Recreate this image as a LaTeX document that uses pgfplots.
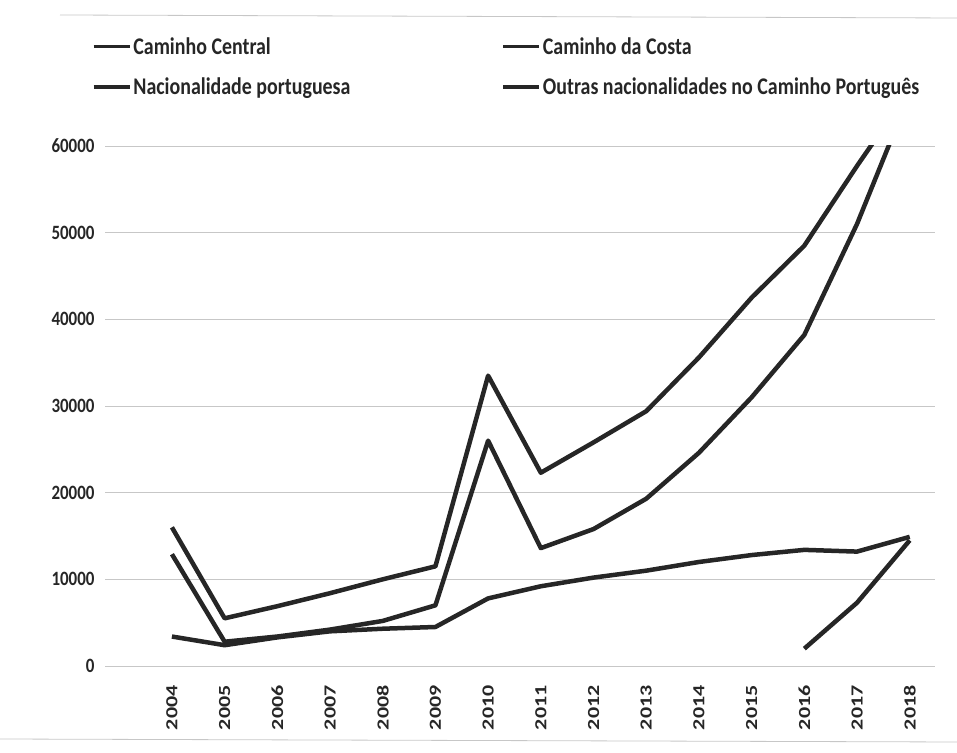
\documentclass[border=0pt]{standalone}
\usepackage{graphicx}
\usepackage{fontspec}
\setmainfont{Carlito}
\usepackage{pgfplots}
\pgfplotsset{compat=1.18}
\newcommand{\vs}[1]{\scalebox{1}[1.2]{#1}}
\newcommand{\hs}[1]{\scalebox{1.3}[1]{#1}}
\definecolor{ink}{HTML}{262626}
\begin{document}
\begin{tikzpicture}[x=1bp,y=1bp]
\useasboundingbox (0,0) rectangle (957,753);
\draw[black!22, line width=0.8bp] (60,738) -- (957,735);
\draw[black!22, line width=0.8bp] (0,14) -- (957,11);
\begin{axis}[
  at={(105bp,87bp)}, anchor=south west,
  width=830bp, height=520bp, scale only axis,
  xmin=2002.73, xmax=2018.48, ymin=0, ymax=60000,
  scaled y ticks=false,
  axis line style={draw=none},
  major tick length=0pt,
  ymajorgrids, grid style={black!22, line width=0.8bp},
  xtick={2004,2005,2006,2007,2008,2009,2010,2011,2012,2013,2014,2015,2016,2017,2018},
  xticklabels={\hs{2004},\hs{2005},\hs{2006},\hs{2007},\hs{2008},\hs{2009},\hs{2010},\hs{2011},\hs{2012},\hs{2013},\hs{2014},\hs{2015},\hs{2016},\hs{2017},\hs{2018}},
  xticklabel style={rotate=90, anchor=east, xshift=-16bp, font=\fontsize{17}{18}\selectfont\bfseries, text=ink},
  ytick={0,10000,20000,30000,40000,50000,60000},
  yticklabels={\vs{0},\vs{10000},\vs{20000},\vs{30000},\vs{40000},\vs{50000},\vs{60000}},
  yticklabel style={anchor=east, xshift=-7bp, font=\fontsize{17}{18}\selectfont\bfseries, text=ink},
  legend columns=2,
  legend cell align=left,
  legend style={draw=none, fill=none, at={(axis description cs:-0.016,1.213)}, anchor=north west,
    font=\fontsize{20}{22}\selectfont\bfseries, text=ink,
    nodes={inner xsep=2bp},
    row sep=18bp, inner sep=0pt},
  legend image code/.code={\draw[line width=3.5bp, ink] (0bp,0bp) -- (36bp,0bp);},
]
% Caminho Central
\addplot[ink, line width=4.5bp, line join=round] coordinates {(2004,16000) (2005,5500) (2006,6900) (2007,8400) (2008,10000) (2009,11500) (2010,33500) (2011,22300) (2012,25800) (2013,29400) (2014,35600) (2015,42500) (2016,48500) (2017,57700) (2018,66500)};
\addlegendentry{\makebox[366bp][l]{\vs{Caminho Central}}}
% Caminho da Costa
\addplot[ink, line width=4.5bp, line join=round] coordinates {(2016,2000) (2017,7300) (2018,14500)};
\addlegendentry{\vs{Caminho da Costa}}
% Nacionalidade portuguesa
\addplot[ink, line width=4.5bp, line join=round] coordinates {(2004,3400) (2005,2400) (2006,3300) (2007,4000) (2008,4300) (2009,4500) (2010,7800) (2011,9200) (2012,10200) (2013,11000) (2014,12000) (2015,12800) (2016,13400) (2017,13200) (2018,14900)};
\addlegendentry{\makebox[366bp][l]{\vs{Nacionalidade portuguesa}}}
% Outras nacionalidades
\addplot[ink, line width=4.5bp, line join=round] coordinates {(2004,12900) (2005,2800) (2006,3400) (2007,4200) (2008,5200) (2009,7000) (2010,26000) (2011,13600) (2012,15800) (2013,19300) (2014,24600) (2015,31000) (2016,38200) (2017,51000) (2018,66000)};
\addlegendentry{\vs{Outras nacionalidades no Caminho Português}}
\end{axis}
\end{tikzpicture}
\end{document}
